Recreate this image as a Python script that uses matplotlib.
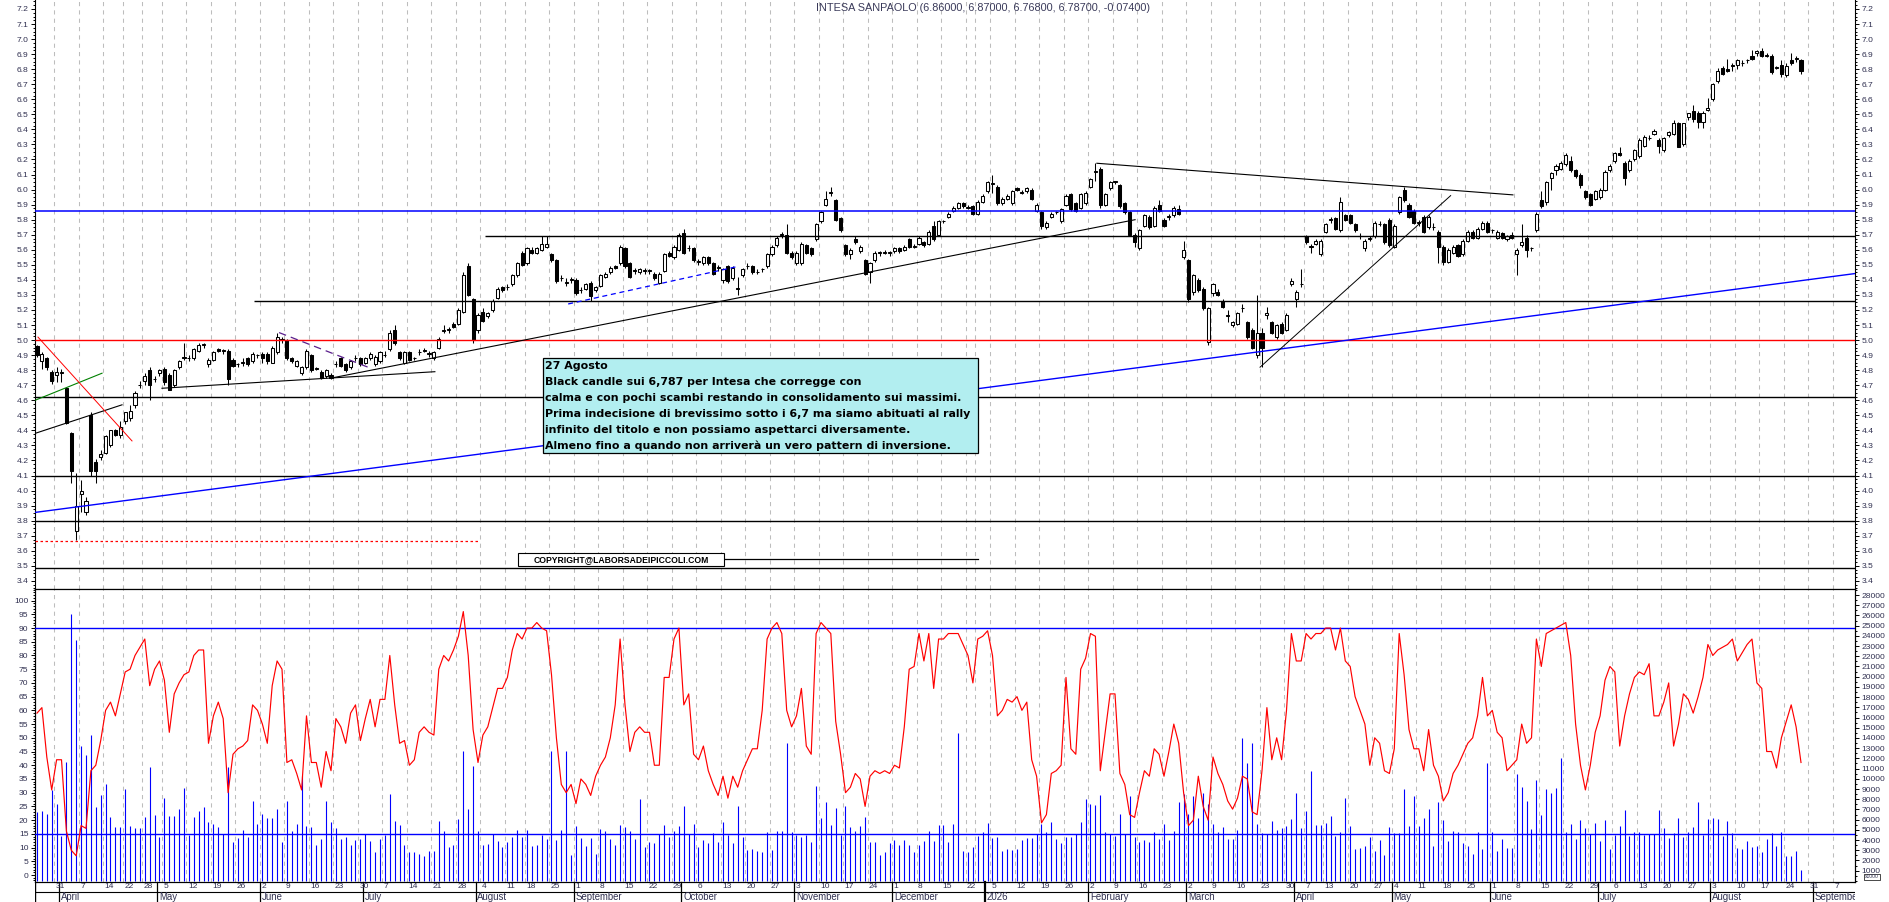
#!/usr/bin/env python3
import numpy as np
import pandas as pd
import matplotlib
matplotlib.use("Agg")
import matplotlib.pyplot as plt
from matplotlib.patches import Rectangle
from matplotlib.ticker import MultipleLocator

plt.rcParams['font.family'] = ['Liberation Sans', 'DejaVu Sans']

TITLE = "INTESA SANPAOLO (6.86000, 6.87000, 6.76800, 6.78700, -0.07400)"
FIRST_DAY = "2025-03-25"
LAST_DAY = "2026-09-11"
HOLIDAYS = ["2025-04-18", "2025-04-21", "2025-05-01", "2025-08-15",
            "2025-12-24", "2025-12-25", "2025-12-26", "2025-12-31",
            "2026-01-01", "2026-04-03", "2026-04-06", "2026-05-01"]
MONTH_NAMES = ["", "January", "February", "March", "April", "May", "June", "July",
               "August", "September", "October", "November", "December"]

OPEN = [4.96, 4.86, 4.88, 4.79, 4.77, 4.78, 4.68, 4.38, 3.73, 3.98,
        3.86, 4.50, 4.19, 4.22, 4.25, 4.30, 4.40, 4.37, 4.46, 4.48,
        4.57, 4.70, 4.73, 4.80, 4.74, 4.78, 4.81, 4.77, 4.70, 4.82,
        4.89, 4.88, 4.88, 4.93, 4.97, 4.84, 4.87, 4.94, 4.93, 4.93,
        4.87, 4.84, 4.85, 4.88, 4.86, 4.90, 4.91, 4.91, 4.85, 4.92,
        5.00, 5.00, 4.88, 4.83, 4.78, 4.82, 4.90, 4.81, 4.79, 4.76,
        4.77, 4.84, 4.88, 4.84, 4.82, 4.88, 4.88, 4.85, 4.88, 4.84,
        4.86, 4.90, 4.94, 5.07, 4.92, 4.85, 4.92, 4.88, 4.92, 4.93,
        4.91, 4.88, 4.95, 5.06, 5.07, 5.11, 5.11, 5.19, 5.49, 5.27,
        5.07, 5.19, 5.16, 5.20, 5.28, 5.35, 5.35, 5.37, 5.43, 5.58,
        5.51, 5.60, 5.58, 5.60, 5.62, 5.57, 5.53, 5.41, 5.38, 5.40,
        5.40, 5.33, 5.34, 5.38, 5.33, 5.36, 5.42, 5.45, 5.49, 5.51,
        5.61, 5.51, 5.46, 5.45, 5.46, 5.46, 5.44, 5.38, 5.46, 5.58,
        5.55, 5.60, 5.71, 5.61, 5.61, 5.52, 5.51, 5.55, 5.51, 5.48,
        5.40, 5.49, 5.41, 5.34, 5.43, 5.49, 5.49, 5.45, 5.47, 5.49,
        5.57, 5.63, 5.70, 5.70, 5.58, 5.51, 5.51, 5.63, 5.61, 5.67,
        5.79, 5.90, 5.98, 5.93, 5.81, 5.63, 5.57, 5.67, 5.59, 5.53,
        5.45, 5.53, 5.58, 5.58, 5.58, 5.59, 5.61, 5.60, 5.67, 5.62,
        5.64, 5.65, 5.64, 5.76, 5.70, 5.79, 5.82, 5.86, 5.88, 5.91,
        5.88, 5.89, 5.84, 5.92, 5.99, 6.04, 6.02, 5.91, 5.94, 5.91,
        6.01, 5.98, 5.99, 6.00, 5.86, 5.85, 5.75, 5.82, 5.85, 5.79,
        5.90, 5.97, 5.91, 5.88, 5.91, 6.02, 6.12, 6.14, 5.90, 6.01,
        6.05, 6.03, 5.91, 5.85, 5.70, 5.61, 5.76, 5.82, 5.76, 5.90,
        5.80, 5.82, 5.83, 5.87, 5.55, 5.53, 5.32, 5.40, 5.34, 4.99,
        5.31, 5.32, 5.26, 5.16, 5.10, 5.11, 5.21, 5.12, 5.07, 4.90,
        5.05, 5.17, 5.12, 5.02, 5.11, 5.07, 5.37, 5.27, 5.37, 5.69,
        5.62, 5.64, 5.57, 5.72, 5.80, 5.81, 5.73, 5.83, 5.83, 5.77,
        5.69, 5.61, 5.67, 5.69, 5.77, 5.77, 5.80, 5.62, 5.85, 6.00,
        5.90, 5.86, 5.78, 5.82, 5.75, 5.75, 5.72, 5.62, 5.52, 5.58,
        5.63, 5.57, 5.66, 5.72, 5.68, 5.74, 5.78, 5.73, 5.68, 5.71,
        5.67, 5.70, 5.57, 5.63, 5.68, 5.61, 5.73, 5.93, 5.92, 6.08,
        6.13, 6.14, 6.17, 6.19, 6.13, 6.10, 5.99, 5.97, 5.94, 5.95,
        6.00, 6.13, 6.19, 6.24, 6.18, 6.13, 6.20, 6.22, 6.29, 6.34,
        6.37, 6.33, 6.26, 6.36, 6.37, 6.44, 6.30, 6.48, 6.52, 6.51,
        6.45, 6.53, 6.60, 6.72, 6.81, 6.80, 6.82, 6.83, 6.84, 6.86,
        6.89, 6.91, 6.92, 6.89, 6.89, 6.81, 6.83, 6.76, 6.86, 6.87, 6.86]

HIGH = [4.97, 4.92, 4.89, 4.80, 4.82, 4.81, 4.69, 4.39, 4.12, 4.07,
        3.96, 4.52, 4.21, 4.27, 4.37, 4.40, 4.41, 4.46, 4.52, 4.57,
        4.66, 4.73, 4.78, 4.82, 4.76, 4.81, 4.82, 4.78, 4.81, 4.87,
        4.98, 4.90, 4.95, 4.98, 4.98, 4.88, 4.93, 4.95, 4.94, 4.94,
        4.88, 4.85, 4.88, 4.89, 4.92, 4.91, 4.92, 4.92, 4.96, 5.05,
        5.02, 5.01, 4.89, 4.87, 4.83, 4.94, 4.91, 4.82, 4.80, 4.81,
        4.78, 4.86, 4.89, 4.85, 4.87, 4.90, 4.89, 4.89, 4.92, 4.90,
        4.93, 4.93, 5.07, 5.10, 4.93, 4.93, 4.93, 4.89, 4.94, 4.95,
        4.93, 4.93, 5.02, 5.10, 5.09, 5.12, 5.21, 5.45, 5.51, 5.28,
        5.18, 5.21, 5.19, 5.27, 5.35, 5.36, 5.37, 5.44, 5.52, 5.59,
        5.62, 5.62, 5.62, 5.69, 5.69, 5.58, 5.54, 5.43, 5.41, 5.42,
        5.41, 5.35, 5.38, 5.39, 5.36, 5.44, 5.45, 5.49, 5.50, 5.63,
        5.62, 5.52, 5.48, 5.48, 5.48, 5.47, 5.45, 5.45, 5.58, 5.59,
        5.63, 5.71, 5.74, 5.63, 5.62, 5.54, 5.56, 5.56, 5.52, 5.50,
        5.48, 5.50, 5.49, 5.42, 5.48, 5.51, 5.50, 5.47, 5.48, 5.58,
        5.63, 5.69, 5.72, 5.77, 5.59, 5.59, 5.65, 5.64, 5.62, 5.78,
        5.86, 5.99, 6.02, 5.94, 5.82, 5.64, 5.61, 5.69, 5.63, 5.54,
        5.52, 5.59, 5.59, 5.60, 5.59, 5.62, 5.62, 5.63, 5.68, 5.64,
        5.69, 5.66, 5.73, 5.79, 5.80, 5.80, 5.85, 5.89, 5.92, 5.92,
        5.90, 5.90, 5.93, 5.97, 6.06, 6.10, 6.03, 5.95, 5.97, 6.00,
        6.02, 6.00, 6.02, 6.01, 5.91, 5.86, 5.79, 5.85, 5.86, 5.88,
        5.97, 5.98, 5.92, 5.98, 5.99, 6.08, 6.18, 6.15, 5.98, 6.06,
        6.06, 6.04, 5.92, 5.86, 5.71, 5.74, 5.84, 5.83, 5.89, 5.93,
        5.81, 5.84, 5.89, 5.90, 5.66, 5.54, 5.44, 5.41, 5.35, 5.22,
        5.38, 5.34, 5.27, 5.20, 5.13, 5.19, 5.24, 5.13, 5.08, 5.30,
        5.08, 5.22, 5.13, 5.11, 5.12, 5.18, 5.41, 5.33, 5.47, 5.70,
        5.64, 5.67, 5.67, 5.78, 5.82, 5.82, 5.95, 5.84, 5.84, 5.78,
        5.71, 5.67, 5.69, 5.79, 5.79, 5.78, 5.81, 5.77, 5.96, 6.02,
        5.91, 5.87, 5.80, 5.83, 5.83, 5.78, 5.73, 5.63, 5.61, 5.63,
        5.64, 5.67, 5.73, 5.73, 5.75, 5.79, 5.79, 5.74, 5.73, 5.72,
        5.70, 5.72, 5.61, 5.77, 5.70, 5.62, 5.85, 5.99, 6.06, 6.12,
        6.17, 6.19, 6.24, 6.22, 6.14, 6.11, 6.00, 5.98, 6.00, 6.01,
        6.13, 6.17, 6.25, 6.28, 6.19, 6.20, 6.27, 6.34, 6.36, 6.36,
        6.40, 6.34, 6.35, 6.39, 6.46, 6.45, 6.44, 6.51, 6.56, 6.52,
        6.52, 6.61, 6.71, 6.81, 6.82, 6.87, 6.84, 6.87, 6.86, 6.87,
        6.93, 6.93, 6.94, 6.91, 6.90, 6.82, 6.86, 6.84, 6.91, 6.89, 6.87]

LOW = [4.89, 4.81, 4.80, 4.71, 4.72, 4.72, 4.44, 4.05, 3.67, 3.86,
       3.84, 4.10, 4.05, 4.20, 4.24, 4.29, 4.36, 4.35, 4.44, 4.46,
       4.55, 4.68, 4.70, 4.60, 4.72, 4.76, 4.70, 4.67, 4.69, 4.81,
       4.87, 4.86, 4.87, 4.92, 4.95, 4.82, 4.86, 4.92, 4.91, 4.70,
       4.82, 4.82, 4.83, 4.83, 4.85, 4.88, 4.85, 4.84, 4.85, 4.91,
       4.98, 4.87, 4.85, 4.82, 4.77, 4.81, 4.79, 4.80, 4.74, 4.75,
       4.74, 4.82, 4.82, 4.79, 4.81, 4.86, 4.83, 4.84, 4.87, 4.83,
       4.85, 4.89, 4.93, 4.97, 4.87, 4.84, 4.86, 4.87, 4.90, 4.92,
       4.89, 4.87, 4.94, 5.05, 5.05, 5.08, 5.10, 5.18, 5.29, 4.98,
       5.05, 5.12, 5.15, 5.19, 5.27, 5.32, 5.33, 5.36, 5.42, 5.49,
       5.50, 5.57, 5.57, 5.59, 5.61, 5.52, 5.38, 5.39, 5.36, 5.38,
       5.30, 5.31, 5.33, 5.26, 5.32, 5.35, 5.41, 5.44, 5.47, 5.50,
       5.48, 5.41, 5.44, 5.44, 5.44, 5.44, 5.40, 5.37, 5.45, 5.55,
       5.54, 5.59, 5.57, 5.59, 5.52, 5.50, 5.50, 5.50, 5.43, 5.46,
       5.38, 5.38, 5.40, 5.30, 5.42, 5.47, 5.44, 5.44, 5.45, 5.48,
       5.56, 5.62, 5.68, 5.57, 5.54, 5.50, 5.50, 5.57, 5.56, 5.66,
       5.78, 5.89, 5.96, 5.79, 5.72, 5.56, 5.54, 5.64, 5.58, 5.43,
       5.38, 5.52, 5.56, 5.57, 5.56, 5.58, 5.58, 5.59, 5.61, 5.61,
       5.63, 5.62, 5.63, 5.66, 5.69, 5.78, 5.81, 5.85, 5.87, 5.88,
       5.87, 5.83, 5.83, 5.91, 5.98, 5.98, 5.90, 5.90, 5.93, 5.90,
       5.99, 5.97, 5.98, 5.93, 5.85, 5.74, 5.74, 5.81, 5.84, 5.78,
       5.89, 5.86, 5.85, 5.87, 5.90, 6.01, 6.06, 5.88, 5.89, 6.00,
       6.04, 5.88, 5.84, 5.69, 5.62, 5.60, 5.75, 5.74, 5.75, 5.85,
       5.75, 5.80, 5.82, 5.83, 5.54, 5.25, 5.30, 5.32, 5.20, 4.97,
       5.29, 5.29, 5.21, 5.12, 5.09, 5.10, 5.19, 5.01, 4.94, 4.88,
       4.82, 5.14, 5.04, 5.01, 5.04, 5.06, 5.36, 5.22, 5.35, 5.64,
       5.58, 5.63, 5.56, 5.71, 5.78, 5.73, 5.72, 5.79, 5.77, 5.72,
       5.67, 5.59, 5.66, 5.68, 5.76, 5.64, 5.62, 5.61, 5.84, 5.92,
       5.81, 5.77, 5.76, 5.71, 5.74, 5.73, 5.51, 5.50, 5.51, 5.57,
       5.55, 5.56, 5.65, 5.67, 5.67, 5.73, 5.71, 5.71, 5.67, 5.67,
       5.66, 5.67, 5.43, 5.62, 5.55, 5.59, 5.72, 5.88, 5.90, 6.00,
       6.10, 6.13, 6.16, 6.12, 6.08, 6.01, 5.94, 5.89, 5.93, 5.94,
       5.99, 6.12, 6.18, 6.22, 6.03, 6.12, 6.19, 6.21, 6.28, 6.33,
       6.36, 6.24, 6.25, 6.35, 6.36, 6.28, 6.29, 6.46, 6.45, 6.41,
       6.41, 6.52, 6.59, 6.71, 6.76, 6.78, 6.79, 6.80, 6.82, 6.84,
       6.86, 6.89, 6.88, 6.88, 6.77, 6.80, 6.75, 6.75, 6.83, 6.85, 6.768]

CLOSE = [4.90, 4.91, 4.82, 4.73, 4.79, 4.79, 4.45, 4.13, 3.90, 4.00,
         3.93, 4.13, 4.13, 4.24, 4.36, 4.40, 4.37, 4.42, 4.52, 4.53,
         4.65, 4.70, 4.76, 4.70, 4.74, 4.80, 4.72, 4.67, 4.80, 4.86,
         4.88, 4.88, 4.94, 4.97, 4.97, 4.87, 4.92, 4.93, 4.93, 4.74,
         4.83, 4.84, 4.85, 4.84, 4.91, 4.90, 4.88, 4.86, 4.95, 5.02,
         5.00, 4.88, 4.86, 4.86, 4.82, 4.93, 4.80, 4.81, 4.75, 4.80,
         4.75, 4.84, 4.83, 4.80, 4.86, 4.88, 4.84, 4.88, 4.91, 4.89,
         4.92, 4.90, 5.05, 4.98, 4.88, 4.92, 4.87, 4.88, 4.92, 4.93,
         4.91, 4.92, 5.01, 5.07, 5.07, 5.09, 5.20, 5.43, 5.30, 5.00,
         5.17, 5.13, 5.18, 5.26, 5.34, 5.33, 5.35, 5.43, 5.51, 5.50,
         5.61, 5.58, 5.61, 5.64, 5.64, 5.53, 5.39, 5.41, 5.38, 5.40,
         5.31, 5.33, 5.37, 5.29, 5.35, 5.43, 5.44, 5.48, 5.48, 5.62,
         5.49, 5.42, 5.46, 5.47, 5.46, 5.46, 5.41, 5.44, 5.57, 5.56,
         5.62, 5.70, 5.58, 5.61, 5.53, 5.52, 5.55, 5.51, 5.44, 5.48,
         5.47, 5.39, 5.48, 5.34, 5.47, 5.49, 5.45, 5.45, 5.47, 5.57,
         5.62, 5.68, 5.70, 5.58, 5.55, 5.58, 5.64, 5.58, 5.57, 5.77,
         5.85, 5.94, 5.98, 5.80, 5.73, 5.57, 5.60, 5.65, 5.62, 5.44,
         5.51, 5.58, 5.58, 5.58, 5.58, 5.61, 5.59, 5.62, 5.62, 5.62,
         5.68, 5.63, 5.72, 5.67, 5.79, 5.79, 5.84, 5.88, 5.91, 5.89,
         5.88, 5.84, 5.92, 5.96, 6.05, 6.04, 5.91, 5.94, 5.96, 5.99,
         6.00, 5.98, 6.01, 5.94, 5.90, 5.76, 5.78, 5.84, 5.85, 5.87,
         5.96, 5.87, 5.86, 5.97, 5.98, 6.07, 6.12, 5.90, 5.97, 6.05,
         6.05, 5.89, 5.85, 5.70, 5.65, 5.73, 5.83, 5.75, 5.88, 5.86,
         5.76, 5.82, 5.88, 5.84, 5.60, 5.27, 5.43, 5.33, 5.21, 5.21,
         5.37, 5.30, 5.22, 5.16, 5.12, 5.18, 5.21, 5.02, 4.95, 5.05,
         4.95, 5.18, 5.05, 5.10, 5.05, 5.17, 5.39, 5.32, 5.37, 5.65,
         5.62, 5.66, 5.66, 5.77, 5.80, 5.74, 5.92, 5.80, 5.78, 5.73,
         5.69, 5.66, 5.68, 5.78, 5.77, 5.65, 5.63, 5.76, 5.95, 5.93,
         5.82, 5.78, 5.78, 5.72, 5.82, 5.75, 5.62, 5.52, 5.60, 5.62,
         5.56, 5.66, 5.72, 5.68, 5.74, 5.78, 5.72, 5.73, 5.72, 5.68,
         5.69, 5.68, 5.60, 5.65, 5.60, 5.61, 5.84, 5.89, 6.05, 6.11,
         6.16, 6.18, 6.23, 6.13, 6.09, 6.03, 5.95, 5.90, 5.99, 6.00,
         6.12, 6.16, 6.24, 6.23, 6.08, 6.19, 6.26, 6.33, 6.35, 6.34,
         6.39, 6.29, 6.34, 6.38, 6.44, 6.28, 6.44, 6.51, 6.47, 6.45,
         6.51, 6.54, 6.70, 6.79, 6.77, 6.79, 6.83, 6.86, 6.84, 6.86,
         6.87, 6.92, 6.89, 6.89, 6.78, 6.81, 6.77, 6.82, 6.84, 6.87, 6.787]

# oscillator (left scale 0-100)
OSC = [59, 61, 43, 31, 42, 42, 16, 9, 7, 18,
       17, 38, 40, 49, 60, 63, 58, 66, 74, 75,
       80, 83, 86, 69, 75, 78, 71, 52, 66, 70,
       73, 74, 80, 82, 82, 48, 58, 63, 57, 30,
       44, 46, 47, 49, 62, 60, 55, 48, 69, 78,
       75, 41, 42, 37, 31, 58, 41, 41, 32, 45,
       38, 57, 54, 48, 59, 62, 49, 57, 64, 54,
       64, 64, 80, 62, 48, 49, 40, 42, 52, 54,
       52, 51, 75, 80, 78, 82, 87, 96, 80, 53,
       41, 51, 54, 61, 68, 68, 72, 82, 88, 86,
       90, 90, 92, 90, 89, 73, 50, 33, 30, 33,
       26, 35, 33, 29, 36, 40, 43, 50, 62, 86,
       62, 45, 52, 54, 52, 52, 40, 40, 72, 72,
       86, 90, 62, 66, 44, 42, 47, 38, 33, 29,
       36, 28, 36, 32, 38, 42, 46, 46, 60, 86,
       90, 92, 88, 60, 54, 58, 68, 47, 44, 88,
       92, 90, 88, 56, 44, 30, 32, 37, 35, 25,
       36, 38, 37, 38, 37, 40, 39, 54, 75, 76,
       88, 78, 88, 68, 86, 86, 88, 88, 88, 84,
       80, 70, 86, 87, 89, 80, 58, 60, 64, 63,
       65, 60, 63, 42, 36, 19, 22, 37, 38, 40,
       72, 46, 44, 75, 79, 88, 87, 38, 52, 66,
       66, 37, 33, 22, 21, 30, 38, 36, 46, 44,
       36, 45, 55, 48, 30, 18, 20, 36, 25, 20,
       43, 37, 33, 27, 24, 28, 36, 35, 23, 22,
       38, 61, 42, 50, 42, 60, 88, 78, 78, 88,
       86, 88, 88, 90, 90, 82, 90, 78, 76, 65,
       60, 55, 40, 50, 48, 38, 37, 46, 88, 73,
       53, 46, 46, 38, 53, 40, 36, 27, 30, 37,
       40, 44, 48, 50, 58, 72, 58, 60, 52, 50,
       38, 40, 42, 55, 48, 50, 86, 76, 88, 89,
       90, 91, 92, 80, 55, 40, 31, 40, 52, 58,
       71, 76, 74, 47, 58, 66, 72, 74, 73, 77,
       58, 58, 63, 70, 47, 55, 66, 64, 59, 65,
       72, 84, 80, 82, 83, 84, 86, 78, 81, 84,
       86, 70, 68, 45, 45, 39, 50, 56, 62, 54, 41]

# volume, thousands of shares (right scale)
VOLUME = [6.7, 6.8, 6.6, 8.9, 7.5, 4.4, 11.6, 26.1, 23.6, 13.2,
          12.3, 14.3, 7.2, 8.4, 9.5, 6.3, 5.3, 5.3, 9.0, 5.4,
          5.2, 5.2, 6.3, 11.2, 6.5, 4.3, 8.1, 6.4, 6.4, 7.0,
          9.1, 4.5, 6.3, 6.8, 7.2, 5.8, 5.6, 5.3, 4.6, 11.2,
          3.8, 4.2, 5.0, 4.3, 7.8, 5.6, 6.6, 6.2, 6.2, 7.0,
          3.8, 7.8, 4.9, 5.6, 10.3, 5.4, 5.3, 3.5, 4.1, 7.8,
          5.8, 5.2, 4.1, 4.3, 3.5, 4.0, 4.1, 4.6, 3.9, 2.8,
          4.1, 4.5, 8.5, 5.9, 5.5, 3.5, 2.8, 2.8, 2.6, 2.4,
          2.9, 2.9, 5.9, 4.9, 3.3, 3.5, 6.1, 12.7, 7.0, 11.3,
          4.9, 3.5, 3.6, 4.6, 3.9, 3.3, 3.8, 4.3, 5.0, 4.3,
          5.0, 3.4, 3.5, 4.5, 4.1, 12.7, 4.0, 5.0, 12.7, 2.5,
          5.4, 4.2, 3.4, 4.2, 2.6, 5.1, 4.9, 4.1, 3.5, 5.5,
          5.3, 4.9, 4.1, 8.0, 3.3, 3.8, 3.7, 4.6, 5.5, 4.3,
          4.9, 5.4, 7.3, 4.6, 5.6, 3.3, 4.0, 3.7, 4.7, 3.8,
          5.8, 4.5, 3.7, 7.3, 4.3, 3.0, 3.1, 2.9, 2.8, 4.8,
          3.0, 4.9, 4.9, 13.5, 4.8, 4.5, 4.3, 4.5, 3.8, 9.3,
          6.2, 7.7, 5.5, 7.1, 4.5, 7.3, 5.3, 4.9, 5.4, 6.3,
          3.8, 3.8, 2.5, 2.8, 3.7, 4.0, 3.5, 4.0, 3.5, 2.8,
          3.5, 3.9, 4.9, 3.9, 5.5, 5.5, 3.8, 5.6, 14.5, 2.9,
          2.8, 3.3, 4.4, 4.8, 5.7, 4.2, 4.3, 2.9, 3.1, 3.0,
          3.1, 4.0, 4.2, 4.2, 4.6, 5.6, 4.8, 5.8, 4.1, 3.7,
          4.3, 4.3, 4.6, 5.8, 8.0, 7.5, 7.4, 8.4, 4.8, 4.6,
          4.4, 6.6, 4.6, 8.3, 4.3, 3.8, 4.0, 3.8, 4.8, 4.1,
          5.6, 4.0, 4.9, 7.7, 8.5, 6.6, 8.3, 6.2, 8.6, 7.5,
          5.6, 4.8, 5.3, 4.1, 4.1, 5.0, 14.0, 11.5, 13.5, 5.6,
          4.7, 4.6, 5.9, 5.0, 5.2, 5.4, 6.1, 8.6, 5.2, 6.8,
          10.8, 5.5, 5.5, 5.7, 6.4, 4.4, 4.8, 8.1, 5.4, 3.1,
          3.2, 3.4, 4.3, 2.9, 4.0, 2.5, 5.3, 4.7, 4.7, 9.0,
          5.4, 8.3, 5.4, 6.2, 7.0, 3.4, 7.7, 6.0, 3.9, 4.9,
          4.8, 3.7, 3.4, 2.6, 4.8, 3.1, 11.5, 4.8, 2.9, 4.1,
          3.2, 3.2, 10.5, 9.2, 7.8, 5.1, 9.9, 6.5, 9.0, 8.6,
          9.1, 12.0, 4.8, 5.6, 4.1, 6.0, 5.2, 4.6, 5.7, 3.9,
          6.0, 3.1, 4.5, 5.4, 6.9, 4.4, 4.8, 4.8, 4.5, 4.6,
          4.6, 6.9, 5.2, 4.2, 4.7, 6.2, 4.3, 4.8, 5.3, 7.7,
          4.5, 6.1, 6.2, 6.1, 4.4, 5.9, 4.7, 3.2, 3.1, 3.9,
          3.3, 3.4, 2.8, 4.1, 4.7, 3.4, 4.8, 2.4, 2.4, 2.9, 1.1]

# analyst levels and trendlines, (session index, price)
LEVELS = [5.86, 5.69, 5.26, 5.00, 4.62, 4.10, 3.795, 3.665, 3.485]
LEVEL_START = [None, 91.4, 44.3, None, None, None, None, None, None]
LEVEL_END = [None, None, None, None, None, None, None, 90.4, None]
TRENDLINES = [((-0.41, 3.855), (371.0, 5.442)),
              ((60.4, 4.75), (224.1, 5.80)),
              ((25.5, 4.68), (81.2, 4.79)),
              ((-0.41, 4.38), (17.35, 4.57)),
              ((-0.41, 4.60), (13.27, 4.78)),
              ((0.2, 5.02), (19.39, 4.33)),
              ((49.4, 5.05), (67.55, 4.82)),
              ((108.4, 5.24), (143.1, 5.49)),
              ((216.3, 6.175), (301.2, 5.965)),
              ((249.6, 4.82), (288.5, 5.96)),
              ((140.2, 3.545), (192.0, 3.545))]

NOTE_LINES = ["27 Agosto",
              "Black candle sui 6,787 per Intesa che corregge con",
              "calma e con pochi scambi restando in consolidamento sui massimi.",
              "Prima indecisione di brevissimo sotto i 6,7 ma siamo abituati al rally",
              "infinito del titolo e non possiamo aspettarci diversamente.",
              "Almeno fino a quando non arriverà un vero pattern di inversione."]
COPYRIGHT = "COPYRIGHT@LABORSADEIPICCOLI.COM"

# ---- layout (pixels) ----
W, H = 1890, 902
X0, X1 = 35, 1855
Y_SPLIT, Y_BOT = 589, 882
PX_DAY = 4.9
X_FIRST = 37.0
TXT = '#303050'
GRID = '#bdbdbd'

fig = plt.figure(figsize=(W / 100, H / 100), dpi=100)


def px_axes(x0, ytop, x1, ybot):
    return fig.add_axes([x0 / W, 1 - ybot / H, (x1 - x0) / W, (ybot - ytop) / H])


ax = px_axes(X0, 0, X1, Y_SPLIT)
axv = px_axes(X0, Y_SPLIT, X1, Y_BOT)
axo = axv.twinx()
axd = px_axes(X0, Y_BOT, X1, H)

xlim = ((X0 - X_FIRST) / PX_DAY, (X1 - X_FIRST) / PX_DAY)
for a in (ax, axv, axd):
    a.set_xlim(*xlim)

ax.set_ylim(7.2 - (Y_SPLIT - 9) / 150.5, 7.2 + 9 / 150.5)
axv.set_ylim((880.9 - Y_BOT) / 10.21, (880.9 - Y_SPLIT) / 10.21)
axo.set_ylim((875 - Y_BOT) / 2.744, (875 - Y_SPLIT) / 2.744)
axd.set_ylim(0, 1)

# ---- calendar ----
days = pd.bdate_range(FIRST_DAY, LAST_DAY)
days = days[~days.isin(pd.to_datetime(HOLIDAYS))]
week_key = days - pd.to_timedelta(days.weekday, unit='D')
week_starts = [i for i in range(1, len(days)) if week_key[i] != week_key[i - 1]]
month_starts = [i for i in range(1, len(days)) if days[i].month != days[i - 1].month]

for i in week_starts:
    for a in (ax, axv):
        a.axvline(i - 0.5, color=GRID, lw=0.75, ls=(0, (4, 4)), zorder=0)

# ---- candles ----
o, h, l, c = (np.array(v, dtype=float) for v in (OPEN, HIGH, LOW, CLOSE))
x = np.arange(len(c))
up = c >= o
ax.vlines(x, l, h, color='black', lw=0.75, zorder=2)
bottom = np.minimum(o, c)
height = np.maximum(np.abs(c - o), 0.004)
ax.bar(x[up], height[up], bottom=bottom[up], width=0.62, facecolor='white',
       edgecolor='black', lw=0.75, zorder=3)
ax.bar(x[~up], height[~up], bottom=bottom[~up], width=0.62, facecolor='black',
       edgecolor='black', lw=0.75, zorder=3)

# ---- levels & trendlines ----
level_style = [dict(color='#0000ff', lw=1.1), dict(color='black', lw=1.0),
               dict(color='black', lw=1.0), dict(color='#ff0000', lw=1.0),
               dict(color='black', lw=1.0), dict(color='black', lw=1.0),
               dict(color='black', lw=1.0), dict(color='#ff0000', lw=0.9, ls=(0, (2, 2))),
               dict(color='black', lw=1.0)]
for lev, s, e, st in zip(LEVELS, LEVEL_START, LEVEL_END, level_style):
    ax.plot([xlim[0] if s is None else s, xlim[1] if e is None else e], [lev, lev],
            zorder=4, solid_capstyle='butt', **st)

trend_style = [dict(color='#0000ff', lw=1.0), dict(color='black', lw=0.8),
               dict(color='black', lw=0.8), dict(color='black', lw=0.8),
               dict(color='#008000', lw=0.8), dict(color='#ff0000', lw=0.7),
               dict(color='#5a1e8c', lw=0.9, ls=(0, (6, 4))),
               dict(color='#0000ff', lw=0.9, ls=(0, (4, 3))),
               dict(color='black', lw=0.8), dict(color='black', lw=0.7),
               dict(color='black', lw=0.9)]
for ((xa, ya), (xb, yb)), st in zip(TRENDLINES, trend_style):
    ax.plot([xa, xb], [ya, yb], zorder=4, **st)

# ---- note box ----
bx0, bx1 = (543 - X_FIRST) / PX_DAY, (978 - X_FIRST) / PX_DAY
ax.add_patch(Rectangle((bx0, 4.250), bx1 - bx0, 0.631, facecolor='#b2eef0',
                       edgecolor='black', lw=0.9, zorder=8))
for k, line in enumerate(NOTE_LINES):
    ax.text(bx0 + 0.4, 4.810 - k * 0.1072, line, fontsize=7.9, fontweight='bold',
            family=['DejaVu Sans'], color='black', ha='left', va='baseline', zorder=9)

cx0, cx1 = (518 - X_FIRST) / PX_DAY, (724 - X_FIRST) / PX_DAY
ax.add_patch(Rectangle((cx0, 3.499), cx1 - cx0, 0.086, facecolor='white',
                       edgecolor='black', lw=0.8, zorder=8))
ax.text((cx0 + cx1) / 2, 3.542, COPYRIGHT, fontsize=6.2, fontweight='bold',
        ha='center', va='center', zorder=9)

# ---- lower panel ----
axv.vlines(x, 0, VOLUME, color='#0000ff', lw=0.8, zorder=2)
axo.axhline(90, color='#0000ff', lw=1.0, zorder=3)
axo.axhline(15, color='#0000ff', lw=1.0, zorder=3)
axo.plot(x, OSC, color='#ff0000', lw=0.85, zorder=4)

# ---- ticks ----
pticks = np.round(np.arange(3.4, 7.25, 0.1), 1)
ax.set_yticks(pticks)
ax.set_yticklabels([f"{v:.1f}" for v in pticks])
ax.yaxis.set_minor_locator(MultipleLocator(0.025))
ax.tick_params(axis='y', which='both', left=True, right=True, labelleft=True,
               labelright=True, direction='out', labelsize=6.1, labelcolor=TXT,
               width=0.7, pad=1.5)

vticks = np.arange(1, 29)
axv.yaxis.tick_right()
axv.set_yticks(vticks)
axv.set_yticklabels([str(v * 1000) for v in vticks])
axv.yaxis.set_minor_locator(MultipleLocator(0.5))
axv.tick_params(axis='y', which='both', left=False, right=True, labelleft=False,
                labelright=True, direction='out', labelsize=6.1, labelcolor=TXT,
                width=0.7, pad=1.5)

oticks = np.arange(0, 101, 5)
axo.yaxis.tick_left()
axo.set_yticks(oticks)
axo.set_yticklabels([str(v) for v in oticks])
axo.yaxis.set_minor_locator(MultipleLocator(1))
axo.tick_params(axis='y', which='both', left=True, right=False, labelleft=True,
                labelright=False, direction='out', labelsize=6.1, labelcolor=TXT,
                width=0.7, pad=1.5)

for a in (ax, axv, axo):
    a.tick_params(axis='y', which='major', length=3.2)
    a.tick_params(axis='y', which='minor', length=1.6)
    a.set_xticks([])
    for sp in a.spines.values():
        sp.set_linewidth(0.8)
ax.spines['top'].set_visible(False)

# ---- date axis ----
axd.axis('off')
axd.axhline(0.52, color='black', lw=0.8)
axd.axvline(xlim[0], color='black', lw=1.0)
last = -1e9
for i in week_starts:
    xb = i - 0.5
    if xb > xlim[1] or (xb - last) * PX_DAY < 11:
        continue
    axd.text(xb + 0.3, 0.77, str(days[i].day), fontsize=6.0, color=TXT,
             ha='left', va='center', clip_on=True)
    last = xb
for i in month_starts:
    xb = i - 0.5
    if xb > xlim[1]:
        continue
    m = days[i].month
    name = str(days[i].year) if m == 1 else MONTH_NAMES[m]
    axd.plot([xb, xb], [0, 1], color='black', lw=1.6 if m == 1 else 0.9,
             clip_on=False)
    axd.text(xb + 0.35, 0.24, name, fontsize=6.9, color=TXT, ha='left',
             va='center', clip_on=True)

fig.text(816 / W, 1 - 8 / H, TITLE, fontsize=7.8, color='#3a3a5a', ha='left', va='center')
fig.text(1872 / W, 1 - 877 / H, "x1000", fontsize=3.6, color=TXT, ha='center',
         va='center', bbox=dict(boxstyle='square,pad=0.15', fc='white', ec='black', lw=0.5))

fig.savefig("out.png", dpi=100)
